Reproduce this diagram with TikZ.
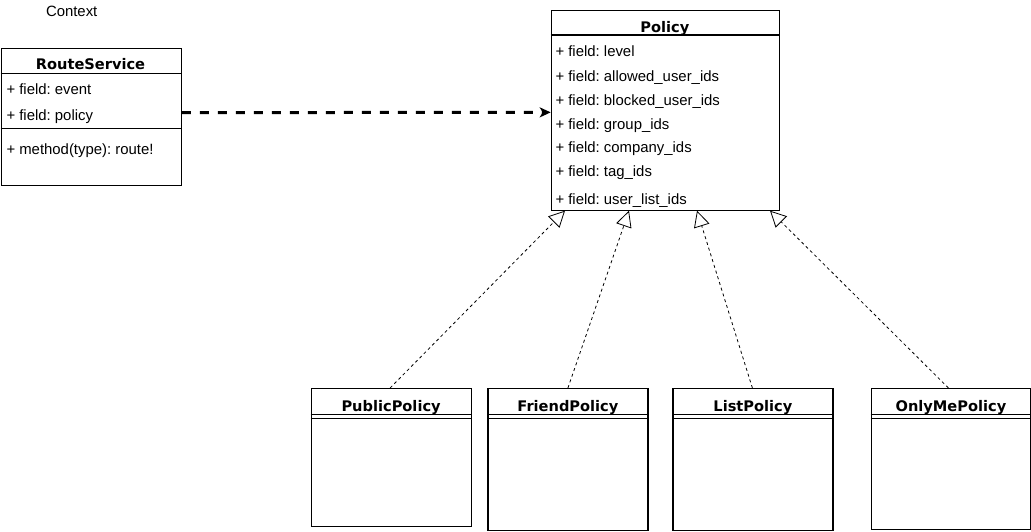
\documentclass[tikz,border=0pt]{standalone}
\usepackage{fontspec}
\setmainfont{Liberation Sans}
\newfontfamily\headfont{DejaVu Sans}
\usetikzlibrary{arrows.meta,positioning}
\frenchspacing

\begin{document}
\begin{tikzpicture}[x=1pt,y=-1pt,
   every node/.style={font=\fontsize{14.9}{17}\selectfont},
   classbox/.style={draw,line width=1.2pt,anchor=north west,inner sep=0pt},
   divider/.style={line width=1.2pt},
   classname/.style={font=\headfont\bfseries\fontsize{14.6}{17}\selectfont,anchor=base,inner sep=0pt},
   member/.style={anchor=base west,inner sep=0pt},
   uses/.style={line width=3pt,dash pattern=on 9pt off 9pt,-{Stealth[length=11pt,width=10pt,inset=3pt]}},
   extends/.style={line width=0.8pt,dash pattern=on 3pt off 3pt,-{Triangle[length=16pt,width=16pt,fill=white]}}]
\useasboundingbox (0,0) rectangle (1031,531);

\node[anchor=base,inner sep=0pt] (context) at (71.7,16.7) {Context};

% RouteService
\node[classbox,minimum width=180pt,minimum height=137.5pt] (route) at (0.6,47.5) {};
\node[classname] (routename) at (90.5,69.3) {RouteService};
\draw[divider] ([yshift=-25.8pt]route.north west) -- ([yshift=-25.8pt]route.north east);
\node[member] (routeevent) at (6.3,94.3) {+ field: event};
\node[member] (routepolicy) at (6.3,120) {+ field: policy};
\draw[divider] ([yshift=-80.8pt]route.north west) -- ([yshift=-80.8pt]route.north east);
\node[member] (routemethod) at (6.3,154) {+ method(type): route!};

% Policy
\node[classbox,minimum width=228.3pt,minimum height=199.5pt] (policy) at (550.7,10) {};
\node[classname] (policyname) at (664.8,32.3) {Policy};
\draw[divider] ([yshift=-25pt]policy.north west) -- ([yshift=-25pt]policy.north east);
\node[member] (level) at (555.3,56.7) {+ field: level};
\node[member] (allowed) at (555.3,81) {+ field: allowed\_user\_ids};
\node[member] (blocked) at (555.3,105.3) {+ field: blocked\_user\_ids};
\node[member] (group) at (555.3,129) {+ field: group\_ids};
\node[member] (company) at (555.3,152.7) {+ field: company\_ids};
\node[member] (tag) at (555.3,176.7) {+ field: tag\_ids};
\node[member] (userlist) at (555.3,204) {+ field: user\_list\_ids};

% subclasses
\node[classbox,minimum width=160pt,minimum height=138pt] (public) at (310.5,388) {};
\node[classname] (publicname) at (public.north |- 0,411) {PublicPolicy};
\draw[divider] ([yshift=-26.3pt]public.north west) -- ([yshift=-26.3pt]public.north east);
\draw[divider] ([yshift=-30.3pt]public.north west) -- ([yshift=-30.3pt]public.north east);

\node[classbox,minimum width=160pt,minimum height=142pt] (friend) at (487.3,388) {};
\node[classname] (friendname) at (friend.north |- 0,411) {FriendPolicy};
\draw[divider] ([yshift=-26.3pt]friend.north west) -- ([yshift=-26.3pt]friend.north east);
\draw[divider] ([yshift=-30.3pt]friend.north west) -- ([yshift=-30.3pt]friend.north east);

\node[classbox,minimum width=160pt,minimum height=142pt] (list) at (672.3,388) {};
\node[classname] (listname) at (list.north |- 0,411) {ListPolicy};
\draw[divider] ([yshift=-26.3pt]list.north west) -- ([yshift=-26.3pt]list.north east);
\draw[divider] ([yshift=-30.3pt]list.north west) -- ([yshift=-30.3pt]list.north east);

\node[classbox,minimum width=159.5pt,minimum height=141pt] (onlyme) at (870.6,388) {};
\node[classname] (onlymename) at (onlyme.north |- 0,411) {OnlyMePolicy};
\draw[divider] ([yshift=-26.3pt]onlyme.north west) -- ([yshift=-26.3pt]onlyme.north east);
\draw[divider] ([yshift=-30.3pt]onlyme.north west) -- ([yshift=-30.3pt]onlyme.north east);

% connectors
\draw[uses] ([yshift=4.25pt]route.east) -- ([yshift=-2pt]policy.west);
\coordinate (tippublic) at ([xshift=14.3pt]policy.south west);
\coordinate (tipfriend) at ([xshift=78.3pt]policy.south west);
\coordinate (tiplist) at ([xshift=146.3pt]policy.south west);
\coordinate (tiponlyme) at ([xshift=219.3pt]policy.south west);
\draw[extends] ([xshift=-1pt]public.north) -- (tippublic);
\draw[extends] (friend.north) -- (tipfriend);
\draw[extends] ([xshift=-0.5pt]list.north) -- (tiplist);
\draw[extends] ([xshift=-2.5pt]onlyme.north) -- (tiponlyme);
\end{tikzpicture}
\end{document}
